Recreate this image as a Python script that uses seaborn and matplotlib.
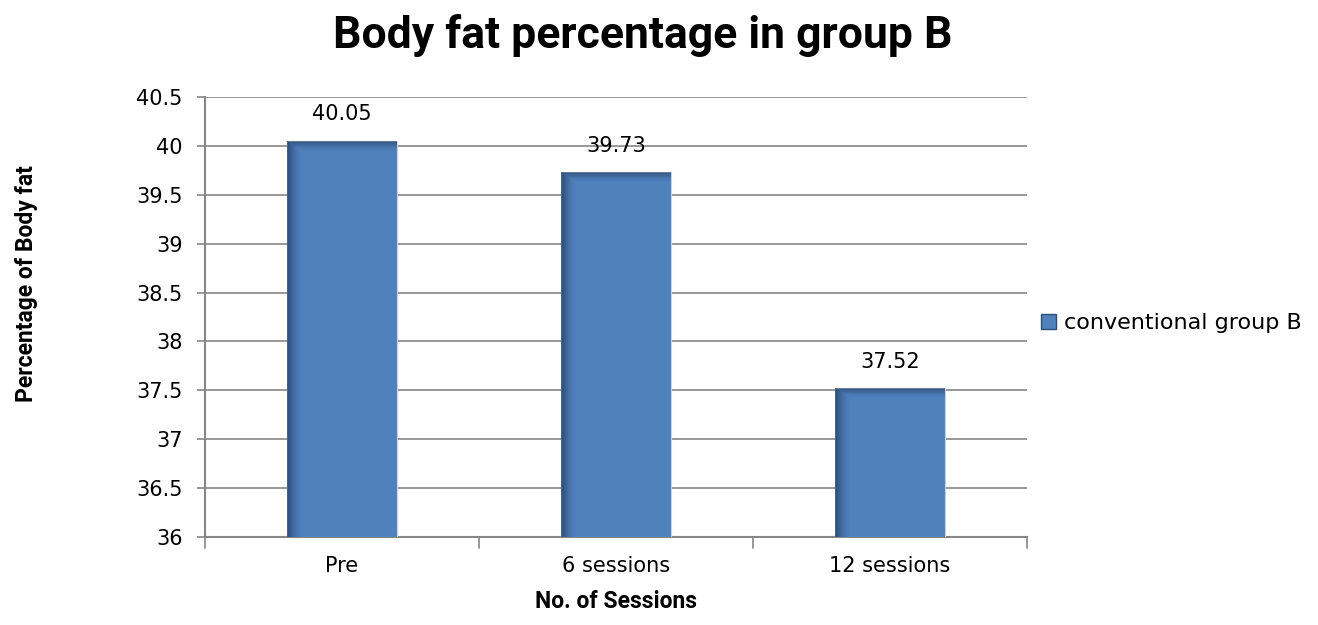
import numpy as np
import pandas as pd
import matplotlib
matplotlib.use("Agg")
import matplotlib.pyplot as plt
import seaborn as sns
from matplotlib.patches import Patch

sessions = ["Pre", "6 sessions", "12 sessions"]
body_fat = [40.05, 39.73, 37.52]
series_name = "conventional group B"
y_ticks = [36, 36.5, 37, 37.5, 38, 38.5, 39, 39.5, 40, 40.5]

sns.set_theme(style="white")
body_font = ["DejaVu Sans"]
narrow_font = ["Liberation Sans Narrow", "DejaVu Sans Condensed", "Roboto", "DejaVu Sans"]
plt.rcParams["font.family"] = body_font
plt.rcParams["text.color"] = "black"
plt.rcParams["axes.labelcolor"] = "black"
plt.rcParams["xtick.color"] = "black"
plt.rcParams["ytick.color"] = "black"

df = pd.DataFrame({"session": sessions, "fat": body_fat, "series": series_name})

fig = plt.figure(figsize=(13.18, 6.25), dpi=100)
ax = fig.add_axes([0.1555, 0.1408, 0.7792 - 0.1555, 0.8448 - 0.1408])

ymin, ymax = 36, 40.5
bar_color = "#4F81BD"
sns.barplot(data=df, x="session", y="fat", color=bar_color, width=0.4,
            saturation=1, ax=ax, zorder=3)

ax.set_ylim(ymin, ymax)
ax.set_xlim(-0.5, 2.5)
ax.set_yticks(y_ticks)
ax.set_yticklabels([f"{v:g}" for v in y_ticks], fontsize=15)
ax.tick_params(axis="x", labelsize=15, length=0, pad=14, colors="black")
ax.tick_params(axis="y", length=6, width=1.2, color="#868686", left=True, pad=10,
               labelcolor="black")
ax.yaxis.grid(True, color="#868686", linewidth=1.2, zorder=0)
ax.set_axisbelow(True)
for side in ["top", "right"]:
    ax.spines[side].set_visible(False)
for side in ["left", "bottom"]:
    ax.spines[side].set_color("#868686")
    ax.spines[side].set_linewidth(1.5)

# category separator ticks on the x axis
for xb in [-0.5, 0.5, 1.5, 2.5]:
    ax.plot([xb, xb], [0, -0.025], transform=ax.get_xaxis_transform(),
            color="#868686", lw=1.2, clip_on=False)

# Excel-style bevel shading on each bar (visible part only)
dark = np.array([0.13, 0.22, 0.36])
for patch in ax.patches:
    x0, w = patch.get_x(), patch.get_width()
    y_top = patch.get_y() + patch.get_height()
    y0 = max(patch.get_y(), ymin)
    h = y_top - y0
    nx, ny = 200, 400
    xs = np.linspace(0, 1, nx)
    left = np.clip(1 - xs / 0.14, 0, 1) ** 1.6 * 0.75
    top_frac = 0.1 / h
    ys = np.linspace(0, 1, ny)  # 0 at top
    top = np.clip(1 - ys / top_frac, 0, 1) ** 1.4 * 0.6
    alpha = np.maximum(left[None, :], top[:, None])
    img = np.zeros((ny, nx, 4))
    img[..., :3] = dark
    img[..., 3] = alpha
    ax.imshow(img, extent=[x0, x0 + w, y0, y_top], origin="upper",
              aspect="auto", zorder=4, interpolation="bilinear")
    patch.set_edgecolor("#c5d3e6")
    patch.set_linewidth(0.8)

ax.set_xlim(-0.5, 2.5)
ax.set_ylim(ymin, ymax)

for i, v in enumerate(body_fat):
    ax.annotate(f"{v:.2f}", (i, v), xytext=(0, 12), textcoords="offset points",
                ha="center", va="bottom", fontsize=15, color="black")

ax.set_xlabel("No. of Sessions", fontsize=16.5, fontweight="bold", labelpad=10,
              family=narrow_font, color="black")
ax.set_ylabel("")
fig.text(0.020, 0.547, "Percentage of Body fat", rotation=90, ha="center",
         va="center", fontsize=16.5, fontweight="bold", family=narrow_font)
fig.suptitle("Body fat percentage in group B", x=0.488, y=0.977,
             fontsize=32, fontweight="bold", family=narrow_font)

handle = Patch(facecolor=bar_color, edgecolor="#2c4d75", label=series_name)
fig.legend(handles=[handle], loc="center left", bbox_to_anchor=(0.775, 0.483),
           frameon=False, fontsize=16, handlelength=0.65, handleheight=0.65,
           handletextpad=0.35)

fig.savefig("out.png", dpi=100)
